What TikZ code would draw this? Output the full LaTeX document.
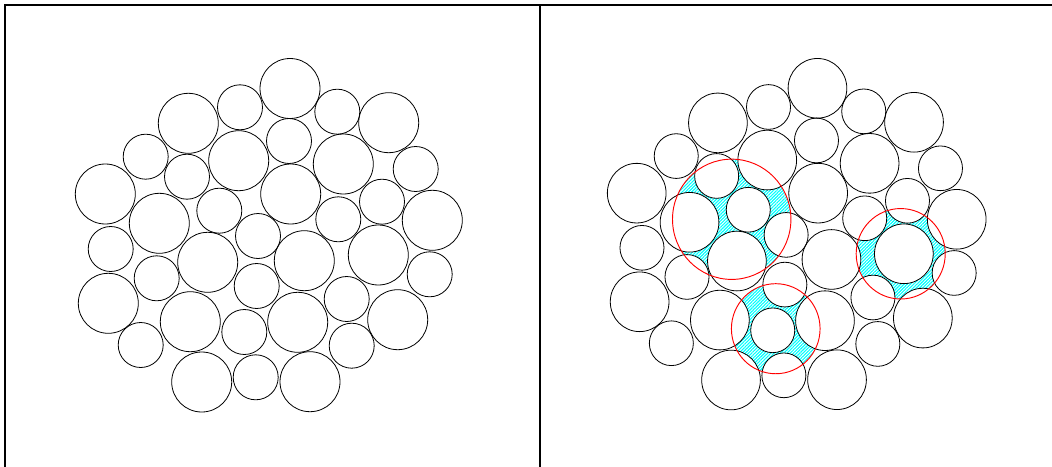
\documentclass[tikz,border=0pt]{standalone}
\usetikzlibrary{patterns.meta}
\begin{document}
\begin{tikzpicture}[x=0.75pt,y=-0.75pt,
  ball/.style={draw=black,line width=0.6pt},
  ballfill/.style={fill=white},
  frame/.style={draw=black,line width=1.4pt},
  redring/.style={draw=red,line width=0.7pt},
  hatch/.style={pattern={Lines[angle=45,distance=1.7pt,line width=0.85pt]},pattern color=cyan}]
\useasboundingbox (0,0) rectangle (1052,467);
% circle data: x/y/r   (L = 30, S = 22.5)
\def\circs{290/88.5/30, 240/107.3/22.5, 188.3/123.3/30, 337.3/111.7/22.5, 388.7/122.7/30,
 145.7/156.7/22.5, 238.7/160.7/30, 289/141/22.5, 343.3/164/30, 415.7/169/22.5,
 187/176.7/22.5, 105.3/194/30, 159.3/223.3/30, 219.3/210.7/22.5, 290.7/194/30,
 338.3/219.3/22.5, 382/201.7/22.5, 432.3/220.3/30, 110.7/249/22.5, 258/236/22.5,
 207.7/262.3/30, 304.3/260.7/30, 378.3/255/30, 156.7/278.3/22.5, 429.7/274.3/22.5,
 256.7/286/22.5, 108.3/303.3/30, 190.3/321.7/30, 346.7/299/22.5, 297.7/322.3/30,
 244.3/332/22.5, 397.7/319.7/30, 140.7/345/22.5, 351.7/345.7/22.5, 201.7/382/30,
 255.7/377.3/22.5, 310/381.7/30}
% left panel
\foreach \x/\y/\r in \circs { \path[ball] (\x,\y) circle [radius=\r]; }
% right panel
\begin{scope}[shift={(533.65,0.34)},xscale=0.9786,yscale=0.9939]
  \coordinate (ra) at (202.4,220.3);
  \coordinate (rb) at (375.1,255);
  \coordinate (rc) at (247.4,330.4);
  \fill[hatch] (ra) circle [radius=60.5];
  \fill[hatch] (rb) circle [radius=45.5];
  \fill[hatch] (rc) circle [radius=45.3];
  \foreach \x/\y/\r in \circs { \path[ballfill] (\x,\y) circle [radius=\r]; }
  \foreach \x/\y/\r in \circs { \path[ball] (\x,\y) circle [radius=\r]; }
  \path[redring] (ra) circle [radius=60.5];
  \path[redring] (rb) circle [radius=45.5];
  \path[redring] (rc) circle [radius=45.3];
\end{scope}
% frames
\coordinate (tl) at (5,5);
\coordinate (tr) at (1053,5);
\coordinate (bl) at (5,468);
\coordinate (tm) at (540,5);
\coordinate (bm) at (540,468);
\draw[frame] (bl) -- (tl) -- (tr);
\draw[frame] (tm) -- (bm);
\end{tikzpicture}
\end{document}
